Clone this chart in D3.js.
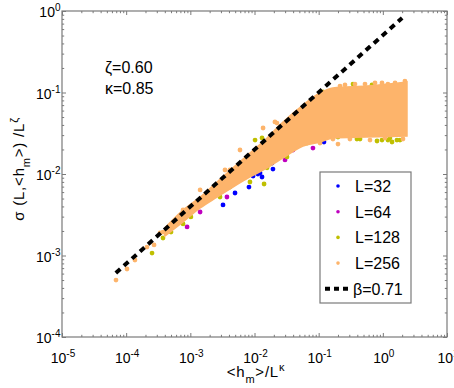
<!DOCTYPE html>
<html>
<head>
<meta charset="utf-8">
<script src="https://cdn.jsdelivr.net/npm/d3@7"></script>
<style>
  body { margin: 0; background: #fff; }
  text { font-family: "Liberation Sans", Arial, sans-serif; fill: #000; }
</style>
</head>
<body>
<div id="chart"></div>
<script>
// Values
var seriesNames = ["L=32", "L=64", "L=128", "L=256"];
var seriesColors = ["#0000ff", "#bf00bf", "#bfbf00", "#fdb46b"];

var l32X = [3.23e-3, 4.97e-3, 8.2e-3, 9.5e-3, 0.0113, 0.0131, 0.0122, 0.0188, 0.0194, 0.121];
var l32Y = [4.17e-3, 5.85e-3, 6.92e-3, 9.45e-3, 0.0100, 9.19e-3, 0.0103, 0.0136, 0.0115, 0.0247];

var l64X = [8.9e-4, 1.42e-3, 3.72e-3, 4.46e-3, 7.64e-3, 0.0299, 0.0398, 0.0658, 0.0815, 0.239, 0.441];
var l64Y = [2.24e-3, 3.42e-3, 5.22e-3, 7.76e-3, 9.45e-3, 0.0149, 0.0197, 0.0247, 0.0208, 0.0310, 0.110];

var l128X = [2.53e-4, 3.75e-4, 5.0e-4, 7.7e-4, 1.02e-3, 2.9e-3, 4.15e-3, 8.5e-3, 0.0141, 0.0157,
             0.0321, 0.150, 0.0102, 0.0131, 0.0658, 0.167, 0.200, 0.395, 0.441, 0.811,
             0.97, 1.20, 1.29, 1.39, 1.66, 1.85, 0.343, 0.678, 0.117];
var l128Y = [1.07e-3, 1.64e-3, 1.94e-3, 2.44e-3, 2.97e-3, 5.22e-3, 6.92e-3, 7.98e-3, 7.54e-3, 0.0119,
             0.0162, 0.0301, 0.0261, 0.0277, 0.0240, 0.0310, 0.0284, 0.0269, 0.0269, 0.0254,
             0.0261, 0.0261, 0.0277, 0.0247, 0.0261, 0.0261, 0.127, 0.124, 0.1014];

var l256X = [6.94e-5, 1.03e-4, 1.37e-4, 2.11e-4, 2.72e-4, 3.37e-4, 3.75e-4, 7.7e-4, 1.42e-3, 3.47e-3,
             4.15e-3, 5.94e-3, 0.0136, 0.0208, 0.0224, 0.97, 0.200, 0.257, 0.527, 1.55,
             0.307, 0.631, 2.06, 0.215, 0.368, 0.755, 1.20, 2.21, 0.105, 0.167, 1.08];
var l256Y = [5.0e-4, 6.83e-4, 8.8e-4, 1.27e-3, 1.35e-3, 1.89e-3, 1.94e-3, 3.62e-3, 6.37e-3, 0.0112,
             0.0112, 0.0197, 0.0367, 0.0435, 0.0422, 0.131, 0.0233, 0.124, 0.127, 0.131,
             0.0269, 0.0261, 0.0269, 0.120, 0.127, 0.131, 0.127, 0.138, 0.0240, 0.0269, 0.0277];

// dense part of the L=256 cloud: upper and lower edge
var bandX  = [4.0e-4, 7.7e-4, 1.42e-3, 2.6e-3, 4.62e-3, 8.5e-3, 0.0157, 0.0278, 0.057, 0.105, 0.167, 0.566, 2.38];
var bandHi = [2.17e-3, 3.6e-3, 5.2e-3, 7.98e-3, 0.0119, 0.0181, 0.0277, 0.0435, 0.0703, 0.0986, 0.1136, 0.120, 0.135];
var bandLo = [1.73e-3, 2.58e-3, 3.83e-3, 5.2e-3, 6.9e-3, 9.2e-3, 0.0119, 0.0158, 0.0221, 0.0247, 0.0277, 0.0284, 0.0292];

// beta = 0.71 power law, end points
var fitX = [6.9e-5, 2.0];
var fitY = [6.1e-4, 0.82];

var xTickExp = [-5, -4, -3, -2, -1, 0, 1];
var yTickExp = [-4, -3, -2, -1, 0];

var width = 454;
var height = 388;
var margin = { top: 11, right: 7, bottom: 51, left: 62 };
var axisColor = "#7a7a7a";

var svg = d3.select("#chart")
  .append("svg")
  .attr("width", width)
  .attr("height", height);

var x = d3.scaleLog().domain([1e-5, 10]).range([margin.left, width - margin.right]);
var y = d3.scaleLog().domain([1e-4, 1]).range([height - margin.bottom, margin.top]);

// minor ticks 2..9 in every decade
function minors(exps) {
  var out = [];
  for (var i = 0; i < exps.length - 1; i++) {
    for (var k = 2; k <= 9; k++) out.push(k * Math.pow(10, exps[i]));
  }
  return out;
}
var xMajor = xTickExp.map(function(e) { return Math.pow(10, e); });
var yMajor = yTickExp.map(function(e) { return Math.pow(10, e); });

// data: series 32, 64, 128 then the L=256 cloud on top
var dots = svg.append("g");
[[l32X, l32Y], [l64X, l64Y], [l128X, l128Y]].forEach(function(s, i) {
  dots.selectAll(null)
    .data(d3.zip(s[0], s[1]))
    .enter()
    .append("circle")
    .attr("cx", function(d) { return x(d[0]); })
    .attr("cy", function(d) { return y(d[1]); })
    .attr("r", 2.4)
    .attr("fill", seriesColors[i]);
});

var band = d3.area()
  .x(function(d) { return x(d[0]); })
  .y0(function(d) { return y(d[2]); })
  .y1(function(d) { return y(d[1]); })
  .curve(d3.curveMonotoneX);

dots.append("path")
  .datum(d3.zip(bandX, bandHi, bandLo))
  .attr("d", band)
  .attr("fill", seriesColors[3])
  .attr("stroke", seriesColors[3])
  .attr("stroke-width", 1.5);

dots.selectAll(null)
  .data(d3.zip(l256X, l256Y))
  .enter()
  .append("circle")
  .attr("cx", function(d) { return x(d[0]); })
  .attr("cy", function(d) { return y(d[1]); })
  .attr("r", 2.4)
  .attr("fill", seriesColors[3]);

// fit line
svg.append("path")
  .datum(d3.zip(fitX, fitY))
  .attr("d", d3.line()
    .x(function(d) { return x(d[0]); })
    .y(function(d) { return y(d[1]); }))
  .attr("fill", "none")
  .attr("stroke", "#000")
  .attr("stroke-width", 4)
  .attr("stroke-dasharray", "6,4.8");

// frame and inward ticks on all four sides
function tickAxis(axis, scale, values, size, transform) {
  svg.append("g")
    .attr("transform", transform)
    .call(axis(scale).tickValues(values).tickSize(size).tickFormat(""))
    .call(function(g) { g.select(".domain").remove(); })
    .selectAll("line").attr("stroke", axisColor);
}
var bottomY = height - margin.bottom, rightX = width - margin.right;
tickAxis(d3.axisBottom, x, xMajor, -4, "translate(0," + bottomY + ")");
tickAxis(d3.axisBottom, x, minors(xTickExp), -2.2, "translate(0," + bottomY + ")");
tickAxis(d3.axisTop, x, xMajor, -4, "translate(0," + margin.top + ")");
tickAxis(d3.axisTop, x, minors(xTickExp), -2.2, "translate(0," + margin.top + ")");
tickAxis(d3.axisLeft, y, yMajor, -4, "translate(" + margin.left + ",0)");
tickAxis(d3.axisLeft, y, minors(yTickExp), -2.2, "translate(" + margin.left + ",0)");
tickAxis(d3.axisRight, y, yMajor, -4, "translate(" + rightX + ",0)");
tickAxis(d3.axisRight, y, minors(yTickExp), -2.2, "translate(" + rightX + ",0)");

svg.append("rect")
  .attr("x", margin.left)
  .attr("y", margin.top)
  .attr("width", rightX - margin.left)
  .attr("height", bottomY - margin.top)
  .attr("fill", "none")
  .attr("stroke", axisColor)
  .attr("stroke-width", 1.2);

// tick labels 10^n (the last x label runs off the right edge, as in the original)
var xLab = svg.append("g").selectAll("text")
  .data(xTickExp).enter().append("text")
  .attr("x", function(e) { return x(Math.pow(10, e)) + 1; })
  .attr("y", bottomY + 26)
  .attr("text-anchor", "middle")
  .style("font-size", "14px");
xLab.append("tspan").text("10");
xLab.append("tspan").attr("dy", -6).style("font-size", "10px").text(function(e) { return e; });

var yLab = svg.append("g").selectAll("text")
  .data(yTickExp).enter().append("text")
  .attr("x", margin.left - 1.5)
  .attr("y", function(e) { return y(Math.pow(10, e)) + 6; })
  .attr("text-anchor", "end")
  .style("font-size", "14px");
yLab.append("tspan").text("10");
yLab.append("tspan").attr("dy", -6).style("font-size", "10px").text(function(e) { return e; });

// axis titles
var xt = svg.append("text")
  .attr("x", 256)
  .attr("y", 377)
  .attr("text-anchor", "middle")
  .style("font-size", "15px")
  .style("letter-spacing", "0.8px");
xt.append("tspan").text("<h");
xt.append("tspan").attr("dy", 6).style("font-size", "11px").text("m");
xt.append("tspan").attr("dy", -6).text(">/L");
xt.append("tspan").attr("dy", -6).style("font-size", "11px").text("κ");

var yt = svg.append("text")
  .attr("transform", "translate(24,169) rotate(-90)")
  .attr("text-anchor", "middle")
  .style("font-size", "15px")
  .style("letter-spacing", "0.8px");
yt.append("tspan").text("σ (L,<h");
yt.append("tspan").attr("dy", 6).style("font-size", "11px").text("m");
yt.append("tspan").attr("dy", -6).text(">) /L");
yt.append("tspan").attr("dy", -6).style("font-size", "11px").text("ζ");

// exponents used for scaling
svg.append("text").attr("x", 105).attr("y", 73).style("font-size", "16px").text("ζ=0.60");
svg.append("text").attr("x", 105).attr("y", 94).style("font-size", "16px").text("κ=0.85");

// legend
var legend = svg.append("g");
legend.append("rect")
  .attr("x", 320).attr("y", 172)
  .attr("width", 91).attr("height", 131)
  .attr("fill", "#fff")
  .attr("stroke", axisColor)
  .attr("stroke-width", 1.2);

var item = legend.selectAll(".legend")
  .data(seriesNames)
  .enter()
  .append("g")
  .attr("class", "legend")
  .attr("transform", function(d, i) { return "translate(338," + (186 + i * 25.7) + ")"; });

item.append("circle")
  .attr("r", 1.8)
  .attr("fill", function(d, i) { return seriesColors[i]; });

item.append("text")
  .attr("x", 17)
  .attr("y", 6)
  .style("font-size", "16px")
  .text(function(d) { return d; });

var fitItem = legend.append("g").attr("transform", "translate(338," + (186 + 4 * 25.7) + ")");
fitItem.append("line")
  .attr("x1", -13).attr("x2", 13)
  .attr("stroke", "#000")
  .attr("stroke-width", 4)
  .attr("stroke-dasharray", "5,4");
fitItem.append("text")
  .attr("x", 15)
  .attr("y", 6)
  .style("font-size", "16px")
  .text("β=0.71");
</script>
</body>
</html>
